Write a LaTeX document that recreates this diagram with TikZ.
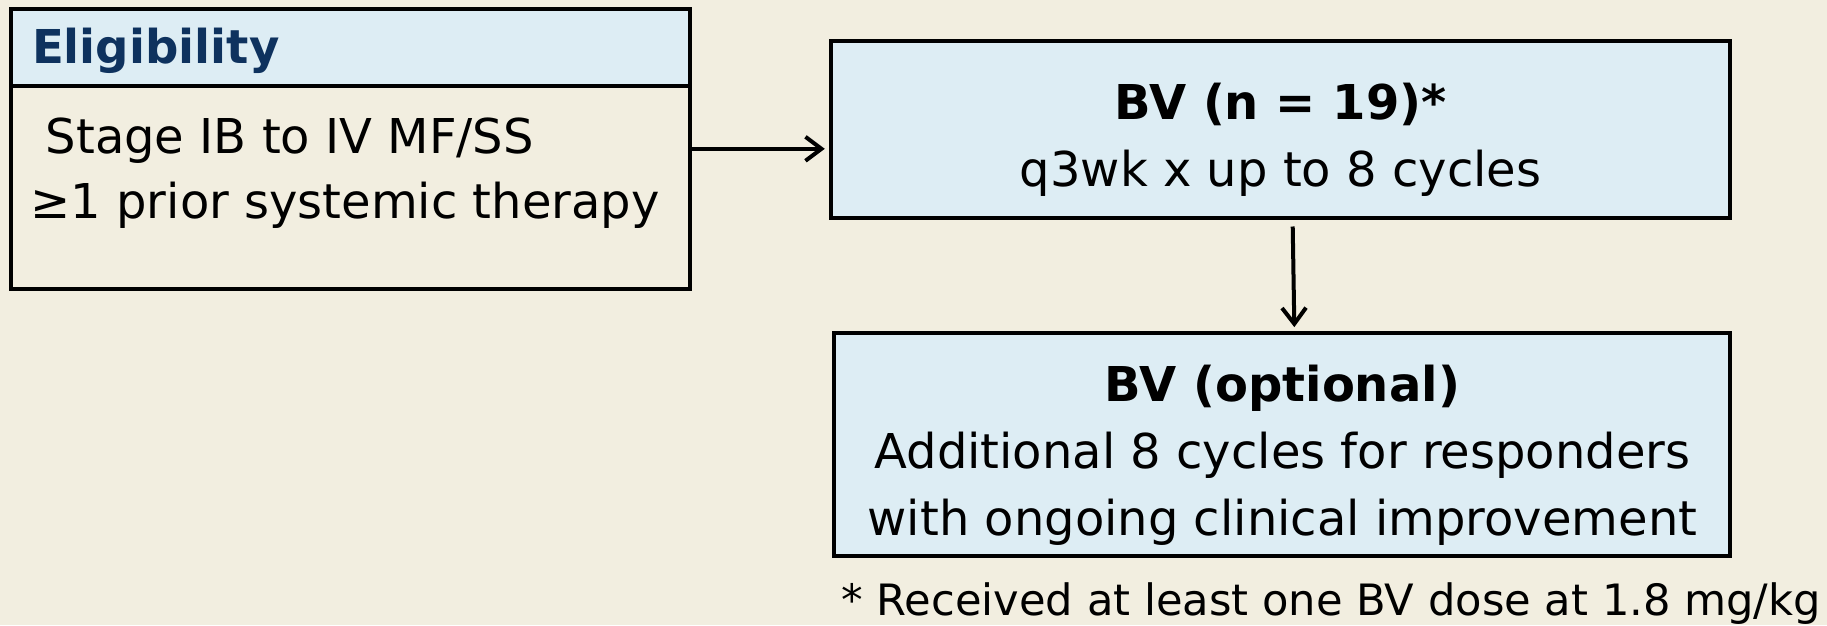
\documentclass[tikz,border=0pt]{standalone}
\usepackage{fontspec}
\setmainfont{DejaVu Sans}
\usepackage{tikz}
\usepackage{xcolor}
\usetikzlibrary{arrows.meta}
\tikzset{every picture/.style={line width=0.75pt}}
\tikzset{
  trialbox/.style={draw={rgb, 255:red, 0; green, 0; blue, 0 }, line width=3pt, fill={rgb, 255:red, 221; green, 237; blue, 244 }, inner sep=0pt},
  boxtext/.style={inner sep=0pt, align=center, font=\fontsize{36}{50}\selectfont},
  flowarrow/.style={line width=3pt, -{Straight Barb[length=12pt,width=18pt,line width=3pt]}},
}

\begin{document}
\begin{tikzpicture}[x=0.75pt,y=0.75pt,yscale=-1,xscale=1]
%set diagram left start at 0, and has height of 625
\fill [fill={rgb, 255:red, 242; green, 238; blue, 224 }] (0,0) rectangle (1827,625);
\useasboundingbox (0,0) rectangle (1827,625);

%Shape: Rectangle [eligibility]
\draw (9,7) node (elig) [trialbox, fill={rgb, 255:red, 242; green, 238; blue, 224 }, anchor=north west, minimum width=509.5pt, minimum height=209.7pt] {};
%Shape: Rectangle [eligibility header]
\draw (elig.north west) node (head) [trialbox, anchor=north west, minimum width=509.5pt, minimum height=57.7pt] {};

%Shape: Rectangle [bv]
\draw (1280.6,129.3) node (bv) [trialbox, minimum width=674.7pt, minimum height=132.8pt] {};
%Shape: Rectangle [optional]
\draw (1282.4,444.5) node (opt) [trialbox, minimum width=672pt, minimum height=167pt] {};

%Straight Lines
\draw [flowarrow, shorten >=3pt] (elig.east) -- (elig.east -| bv.west);
\draw [flowarrow, shorten <=5pt, shorten >=3pt] ([xshift=9pt]bv.south) -- ([xshift=9pt]opt.north);

% Text Node
\draw (31.5,63) node (title) [anchor=base west, inner sep=0pt, text={rgb, 255:red, 14; green, 50; blue, 94 }, font=\fontsize{35}{49}\selectfont\bfseries] {Eligibility};
% Text Node
\draw (30,218) node (criteria) [anchor=base west, inner sep=0pt, align=left, font=\fontsize{36}{48.75}\selectfont] {~Stage IB to IV MF/SS\\≥1 prior systemic therapy};
% Text Node (yshift runs along the flipped y axis)
\draw ([yshift=8pt]bv.center) node (bvtext) [boxtext] {\textbf{BV (n = 19)*}\\q3wk x up to 8 cycles};
% Text Node
\draw ([yshift=8pt]opt.center) node (opttext) [boxtext] {\textbf{BV (optional)}\\Additional 8 cycles for responders\\with ongoing clinical improvement};
% Text Node
\draw (841,604) node (note) [anchor=west, inner sep=0pt, font=\fontsize{32.4}{38}\selectfont] {* Received at least one BV dose at 1.8 mg/kg};

\end{tikzpicture}
\end{document}
